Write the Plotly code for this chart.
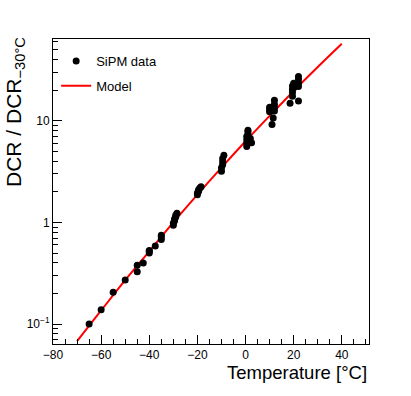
"""SiPM dark count rate vs temperature, normalised to -30 C, with model curve."""

import plotly.graph_objects as go

# measured DCR ratios (DCR / DCR at -30 C)
temperature = [
    -65, -60, -55, -50, -45, -45, -42.5,
    -40, -40, -40, -37.5, -35, -35, -35,
    -30, -30, -29.5, -29.5, -29, -29, -28.5,
    -20, -20, -19.5, -19.5, -19, -18.5,
    -10, -10, -9.5, -9.5, -9.5, -9,
    0.5, 0.5, 0.5, 0.5, 1, 1, 1, 2, 2.5,
    10, 10, 10, 12, 12, 12, 12, 11.5, 11,
    19.5, 19.5, 19.5, 19.5, 20, 20, 22, 22, 22, 22, 18.5, 22,
]
dcr_ratio = [
    0.100, 0.138, 0.205, 0.272, 0.380, 0.328, 0.400,
    0.50, 0.52, 0.53, 0.585, 0.68, 0.72, 0.75,
    0.94, 0.99, 1.04, 1.08, 1.13, 1.18, 1.23,
    1.87, 1.95, 2.03, 2.10, 2.18, 2.25,
    3.20, 3.45, 3.70, 3.95, 4.25, 4.60,
    5.6, 6.0, 6.5, 7.0, 7.4, 7.8, 8.1, 6.7, 6.1,
    12.3, 12.9, 13.6, 12.5, 13.5, 14.6, 16.0, 10.7, 9.2,
    17.5, 19.0, 20.5, 22.0, 23.5, 21.2, 21.8, 23.5, 25.5, 27.4, 14.9, 15.7,
]

# model curve, read every 10 C
model_temperature = [-70, -60, -50, -40, -30, -20, -10, 0, 10, 20, 30, 40]
model_ratio = [0.068, 0.136, 0.27, 0.52, 1.0, 1.88, 3.47, 6.3, 11.2, 19.7, 33.9, 57.4]

FONT = "Liberation Sans, Arial, Helvetica, sans-serif"

fig = go.Figure()

fig.add_trace(go.Scatter(
    x=model_temperature,
    y=model_ratio,
    mode="lines",
    name="Model",
    line=dict(color="#ff0000", width=2, shape="spline"),
    legendgroup="model",
    legendrank=2,
))

fig.add_trace(go.Scatter(
    x=temperature,
    y=dcr_ratio,
    mode="markers",
    name="SiPM data",
    marker=dict(color="black", size=7),
    legendgroup="data",
    legendrank=1,
))

# axis titles placed ROOT-style (aligned to the end of the axis)
fig.add_annotation(
    text="Temperature [°C]",
    xref="paper", yref="paper", x=1, y=0,
    xanchor="right", yanchor="top", yshift=-16,
    showarrow=False, font=dict(size=18.5, color="black"),
)
fig.add_annotation(
    text="DCR / DCR<sub>−30°C</sub>",
    xref="paper", yref="paper", x=0, y=1,
    xanchor="center", yanchor="top", xshift=-38, yshift=4,
    textangle=-90, showarrow=False, font=dict(size=21, color="black"),
)

fig.update_layout(
    width=411,
    height=396,
    margin=dict(l=53, r=42, t=39, b=52),
    paper_bgcolor="white",
    plot_bgcolor="white",
    font=dict(family=FONT, size=12, color="black"),
    showlegend=True,
    legend=dict(
        x=0.01, y=0.977, xanchor="left", yanchor="top",
        bgcolor="rgba(0,0,0,0)", font=dict(size=13),
        traceorder="grouped", tracegroupgap=5,
    ),
    xaxis=dict(
        range=[-80, 51.3],
        tick0=-80, dtick=20,
        ticks="inside", ticklen=9, tickcolor="black",
        minor=dict(ticks="inside", ticklen=5, dtick=5, tickcolor="black"),
        showline=True, linecolor="black", linewidth=1, mirror=True,
        showgrid=False, zeroline=False,
    ),
    yaxis=dict(
        type="log",
        range=[-1.1965, 1.806],
        tickvals=[0.1, 1, 10],
        ticktext=["10<sup>−1</sup>", "1", "10"],
        ticks="inside", ticklen=9, tickcolor="black",
        minor=dict(ticks="inside", ticklen=5, dtick="D1", tickcolor="black"),
        showline=True, linecolor="black", linewidth=1, mirror=True,
        showgrid=False, zeroline=False,
    ),
)

# drop the default 8px page margin so the figure sits at the window origin
fig.write_html(
    "out.html",
    config={"displayModeBar": False},
    post_script="document.body.style.margin = '0px';",
)
